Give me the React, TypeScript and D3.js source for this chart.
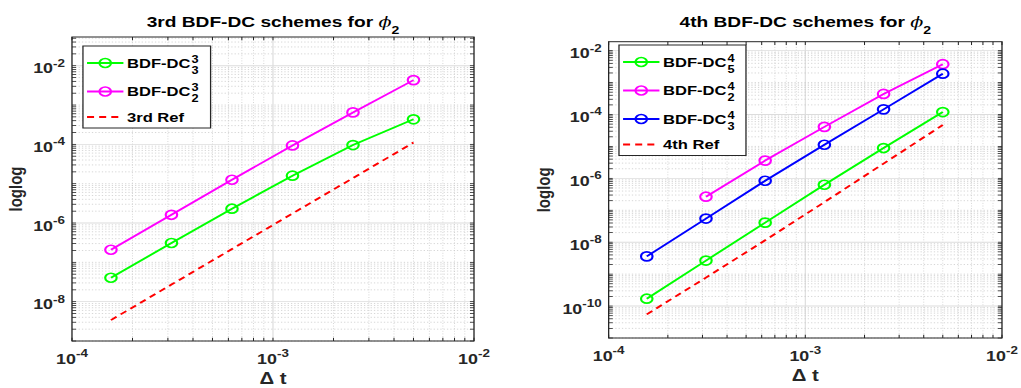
import React from "react";
import * as d3 from "d3";

// Time steps shared by both panels
const dt = [1.5625e-4, 3.125e-4, 6.25e-4, 1.25e-3, 2.5e-3, 5e-3];

// 3rd order panel
const dc3_3 = [4.06e-8, 3.1e-7, 2.31e-6, 1.6e-5, 9.6e-5, 4.33e-4];
const dc3_2 = [2.09e-7, 1.62e-6, 1.26e-5, 9.4e-5, 6.5e-4, 4.3e-3];
const ref3 = [3.4e-9, 2.72e-8, 2.18e-7, 1.74e-6, 1.39e-5, 1.11e-4];

// 4th order panel
const dc4_5 = [1.7e-10, 2.66e-9, 4.1e-8, 6.3e-7, 8.9e-6, 1.19e-4];
const dc4_2 = [null, 2.66e-7, 3.6e-6, 4.1e-5, 4.4e-4, 3.76e-3];
const dc4_3 = [3.6e-9, 5.5e-8, 8.4e-7, 1.13e-5, 1.45e-4, 1.9e-3];
const ref4 = [5.5e-11, 7.8e-10, 1.15e-8, 1.8e-7, 2.9e-6, 4.7e-5];

// Tick labels (decade exponents)
const xTickExp = [-4, -3, -2];
const yTickExp3 = [-2, -4, -6, -8];
const yTickExp4 = [-2, -4, -6, -8, -10];

const FONT = "'Liberation Sans', Arial, Helvetica, sans-serif";
const AX = "#262626";
const GREEN = "#00ff00";
const MAGENTA = "#ff00ff";
const BLUE = "#0000ff";
const RED = "#ff0000";

type Series = {
  values: (number | null)[];
  color: string;
  sup?: string;
  sub?: string;
  label?: string;
  dashed?: boolean;
};

type Panel = {
  x0: number;
  x1: number;
  y0: number;
  y1: number;
  yLo: number;
  yHi: number;
  yTicks: number[];
  order: string;
  series: Series[];
  legend: { x: number; y: number; w: number };
  ylabelX: number;
};

const panels: Panel[] = [
  {
    x0: 56.4,
    x1: 371.4,
    y0: 37,
    y1: 341,
    yLo: 1e-9,
    yHi: Math.pow(10, -1.27),
    yTicks: yTickExp3,
    order: "3rd",
    series: [
      { values: dc3_3, color: GREEN, sup: "3", sub: "3" },
      { values: dc3_2, color: MAGENTA, sup: "3", sub: "2" },
      { values: ref3, color: RED, label: "3rd Ref", dashed: true },
    ],
    legend: { x: 65, y: 46, w: 100 },
    ylabelX: 17.6,
  },
  {
    x0: 476.9,
    x1: 785.1,
    y0: 41.7,
    y1: 338,
    yLo: 1e-11,
    yHi: Math.pow(10, -1.72),
    yTicks: yTickExp4,
    order: "4th",
    series: [
      { values: dc4_5, color: GREEN, sup: "4", sub: "5" },
      { values: dc4_2, color: MAGENTA, sup: "4", sub: "2" },
      { values: dc4_3, color: BLUE, sup: "4", sub: "3" },
      { values: ref4, color: RED, label: "4th Ref", dashed: true },
    ],
    legend: { x: 485, y: 45, w: 99.5 },
    ylabelX: 431,
  },
];

function logTicks(lo: number, hi: number) {
  const out: { v: number; major: boolean }[] = [];
  const e0 = Math.floor(Math.log10(lo));
  const e1 = Math.ceil(Math.log10(hi));
  for (let e = e0; e <= e1; e++) {
    for (let m = 1; m <= 9; m++) {
      const v = m * Math.pow(10, e);
      if (v >= lo * 0.9999 && v <= hi * 1.0001) out.push({ v, major: m === 1 });
    }
  }
  return out;
}

function PanelView({ p }: { p: Panel }) {
  const x = d3.scaleLog().domain([1e-4, 1e-2]).range([p.x0, p.x1]);
  const y = d3.scaleLog().domain([p.yLo, p.yHi]).range([p.y1, p.y0]);
  const majorY = new Set(p.yTicks.map((e) => e));
  const xt = logTicks(1e-4, 1e-2);
  const yt = logTicks(p.yLo, p.yHi).map((t) => ({
    v: t.v,
    major: t.major && majorY.has(Math.round(Math.log10(t.v))),
  }));
  const tl = 3.2;
  const line = d3
    .line<[number, number | null]>()
    .defined((d) => d[1] != null)
    .x((d) => x(d[0]))
    .y((d) => y(d[1] as number));

  const cx = (p.x0 + p.x1) / 2;
  const lg = p.legend;
  const nSup = p.series.filter((s) => !s.dashed).length;
  const rowY = (i: number, s: Series) =>
    lg.y + 17 + (s.dashed ? (nSup - 1) * 28.5 + 25.5 : i * 28.5);
  const lgH = 17 + (nSup - 1) * 28.5 + 25.5 + 11;
  const mainW = 3.832 * 13; // advance width of "BDF-DC" at 13px bold

  return (
    <g>
      {/* grid */}
      {xt.map((t, i) => (
        <line
          key={"gx" + i}
          x1={x(t.v)}
          x2={x(t.v)}
          y1={p.y0}
          y2={p.y1}
          stroke={t.major ? "#dcdcdc" : "#c4c4c4"}
          strokeWidth={t.major ? 0.9 : 0.6}
          strokeDasharray={t.major ? undefined : "1,1.6"}
        />
      ))}
      {yt.map((t, i) => (
        <line
          key={"gy" + i}
          x1={p.x0}
          x2={p.x1}
          y1={y(t.v)}
          y2={y(t.v)}
          stroke={t.major ? "#dcdcdc" : "#c4c4c4"}
          strokeWidth={t.major ? 0.9 : 0.6}
          strokeDasharray={t.major ? undefined : "1,1.6"}
        />
      ))}

      {/* series */}
      {p.series.map((s, i) => (
        <g key={"s" + i}>
          <path
            d={line(dt.map((d, j) => [d, s.values[j]]) as [number, number | null][]) || ""}
            fill="none"
            stroke={s.color}
            strokeWidth={1.8}
            strokeDasharray={s.dashed ? "5.5,4" : undefined}
          />
          {!s.dashed &&
            dt.map((d, j) =>
              s.values[j] == null ? null : (
                <circle
                  key={j}
                  cx={x(d)}
                  cy={y(s.values[j] as number)}
                  r={4.5}
                  fill="none"
                  stroke={s.color}
                  strokeWidth={1.7}
                />
              )
            )}
        </g>
      ))}

      {/* axes box */}
      <rect
        x={p.x0}
        y={p.y0}
        width={p.x1 - p.x0}
        height={p.y1 - p.y0}
        fill="none"
        stroke={AX}
        strokeWidth={1}
      />
      {xt.map((t, i) => (
        <g key={"tx" + i}>
          <line x1={x(t.v)} x2={x(t.v)} y1={p.y1} y2={p.y1 - tl} stroke={AX} strokeWidth={0.8} />
          <line x1={x(t.v)} x2={x(t.v)} y1={p.y0} y2={p.y0 + tl} stroke={AX} strokeWidth={0.8} />
        </g>
      ))}
      {yt.map((t, i) => (
        <g key={"ty" + i}>
          <line x1={p.x0} x2={p.x0 + tl} y1={y(t.v)} y2={y(t.v)} stroke={AX} strokeWidth={0.8} />
          <line x1={p.x1} x2={p.x1 - tl} y1={y(t.v)} y2={y(t.v)} stroke={AX} strokeWidth={0.8} />
        </g>
      ))}

      {/* tick labels */}
      {xTickExp.map((e) => (
        <text
          key={"xl" + e}
          x={x(Math.pow(10, e))}
          y={p.y1 + 23}
          textAnchor="middle"
          fontFamily={FONT}
          fontWeight="bold"
          fontSize={14}
          fill={AX}
        >
          10
          <tspan dy={-6.5} fontSize={10.5}>
            {String(e)}
          </tspan>
        </text>
      ))}
      {p.yTicks.map((e) => (
        <text
          key={"yl" + e}
          x={p.x0 - 5.5}
          y={y(Math.pow(10, e)) + 7.5}
          textAnchor="end"
          fontFamily={FONT}
          fontWeight="bold"
          fontSize={14}
          fill={AX}
        >
          10
          <tspan dy={-6.5} fontSize={10.5}>
            {String(e)}
          </tspan>
        </text>
      ))}

      {/* axis labels */}
      <text
        x={cx}
        y={p.y1 + 43}
        textAnchor="middle"
        fontFamily={FONT}
        fontWeight="bold"
        fontSize={16}
        fill={AX}
      >
        {"\u0394 t"}
      </text>
      <text
        transform={`translate(${p.ylabelX},${(p.y0 + p.y1) / 2}) rotate(-90)`}
        textAnchor="middle"
        fontFamily={FONT}
        fontWeight="bold"
        fontSize={15}
        fill={AX}
      >
        loglog
      </text>

      {/* title */}
      <text
        x={cx}
        y={27}
        textAnchor="middle"
        fontFamily={FONT}
        fontWeight="bold"
        fontSize={15}
        fill="#000"
      >
        {p.order + " BDF-DC schemes for "}
        <tspan fontStyle="italic" fontFamily="'DejaVu Serif', serif" fontWeight="normal">
          {"\u03D5"}
        </tspan>
        <tspan dy={7.5} fontSize={11}>
          2
        </tspan>
      </text>

      {/* legend */}
      <rect x={lg.x} y={lg.y} width={lg.w} height={lgH} fill="#fff" stroke={AX} strokeWidth={1} />
      {p.series.map((s, i) => {
        const ry = rowY(i, s);
        const tx = lg.x + 34.5;
        return (
          <g key={"lg" + i}>
            <line
              x1={lg.x + 3.2}
              x2={lg.x + 31.7}
              y1={ry}
              y2={ry}
              stroke={s.color}
              strokeWidth={1.8}
              strokeDasharray={s.dashed ? "5.5,4" : undefined}
            />
            {!s.dashed && (
              <circle cx={lg.x + 17.45} cy={ry} r={4.5} fill="none" stroke={s.color} strokeWidth={1.7} />
            )}
            {s.dashed ? (
              <text x={tx} y={ry + 5} fontFamily={FONT} fontWeight="bold" fontSize={13} fill="#000">
                {s.label}
              </text>
            ) : (
              <g fontFamily={FONT} fontWeight="bold" fill="#000">
                <text x={tx} y={ry + 5} fontSize={13}>
                  BDF-DC
                </text>
                <text x={tx + mainW + 0.8} y={ry - 0.3} fontSize={10}>
                  {s.sup}
                </text>
                <text x={tx + mainW + 0.8} y={ry + 11} fontSize={10}>
                  {s.sub}
                </text>
              </g>
            )}
          </g>
        );
      })}
    </g>
  );
}

export default function App() {
  return (
    <svg
      width={1021}
      height={388}
      viewBox="0 0 800 388"
      preserveAspectRatio="none"
      style={{ position: "absolute", left: 0, top: 0, background: "#fff" }}
    >
      <rect x={0} y={0} width={800} height={388} fill="#fff" />
      {panels.map((p, i) => (
        <PanelView key={i} p={p} />
      ))}
    </svg>
  );
}
